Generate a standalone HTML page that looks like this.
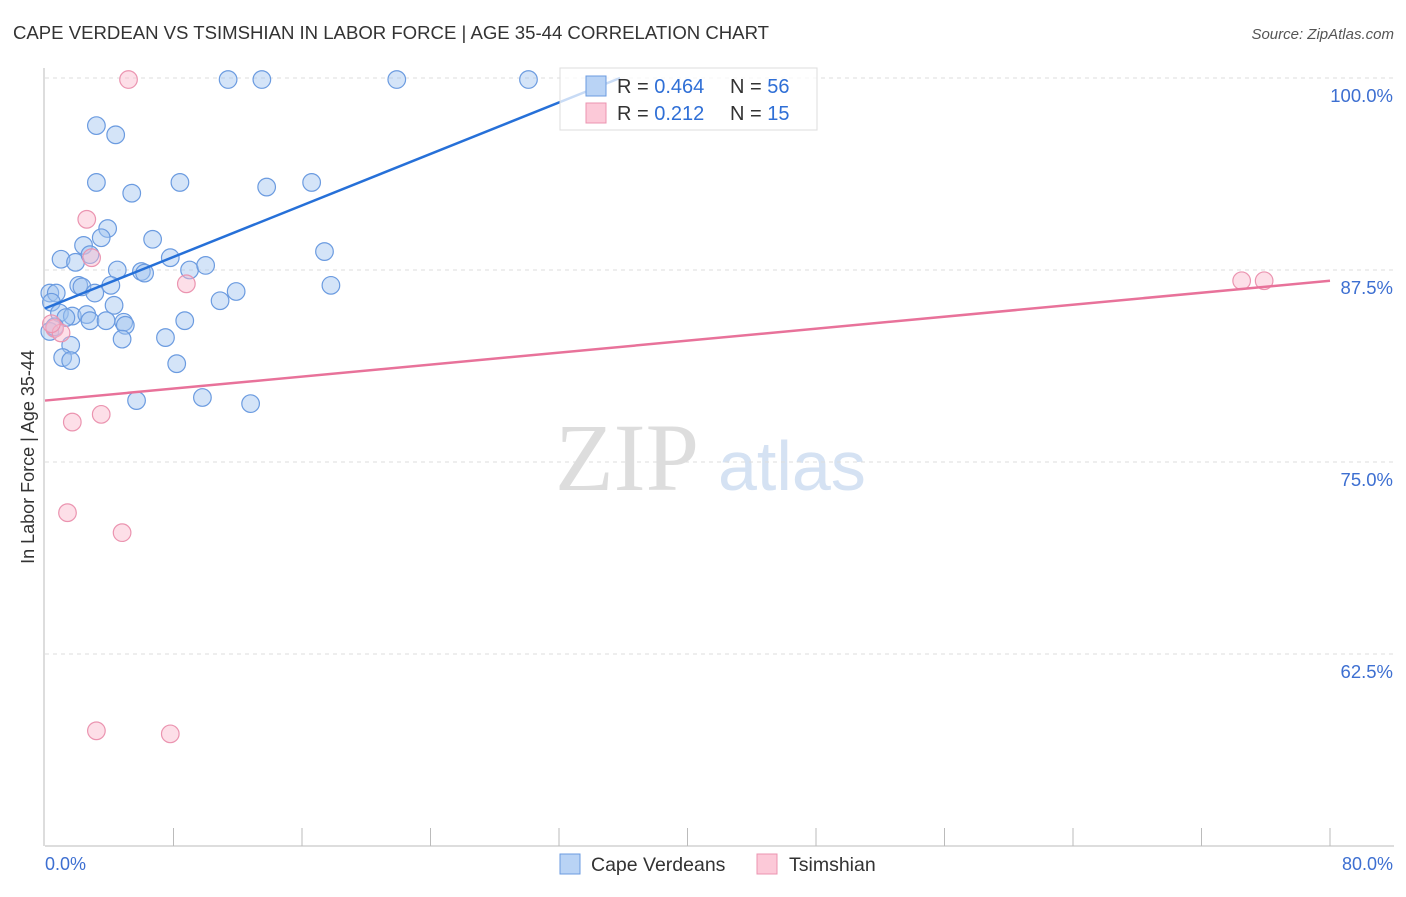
<!DOCTYPE html>
<html><head><meta charset="utf-8"><style>
body{margin:0;background:#fff;font-family:"Liberation Sans",sans-serif;}
#c{position:relative;width:1406px;height:892px;}
</style></head><body>
<div id="c">
<svg id="s" width="1406" height="892" xmlns="http://www.w3.org/2000/svg">
<text x="13" y="39" font-size="18.6" fill="#333" textLength="756">CAPE VERDEAN VS TSIMSHIAN IN LABOR FORCE | AGE 35-44 CORRELATION CHART</text>
<text x="1394" y="39" font-size="15" fill="#555" font-style="italic" text-anchor="end">Source: ZipAtlas.com</text>
<text x="555" y="490" font-size="96" fill="#ddd" font-family="Liberation Serif,serif">ZIP</text>
<text x="718" y="490" font-size="70" fill="#d5e2f3">atlas</text>
<text transform="translate(34,457) rotate(-90)" font-size="18" fill="#333" text-anchor="middle">In Labor Force | Age 35-44</text>
<g id="grid"></g><g id="marks"></g>
<text x="45" y="870" font-size="18" fill="#3d6fd1">0.0%</text>
<text x="1393" y="870" font-size="18" fill="#3d6fd1" text-anchor="end">80.0%</text>
<g>
<rect x="560" y="68" width="257" height="62" fill="#fff" fill-opacity="0.75" stroke="#ddd"/>
<rect x="586" y="76" width="20" height="20" fill="#b9d3f5" stroke="#6b9be0"/>
<rect x="586" y="103" width="20" height="20" fill="#fcc9d8" stroke="#eb94b0"/>
<text x="617" y="93" font-size="20" fill="#333">R = <tspan fill="#2f6fd6">0.464</tspan></text>
<text x="730" y="93" font-size="20" fill="#333">N = <tspan fill="#2f6fd6">56</tspan></text>
<text x="617" y="120" font-size="20" fill="#333">R = <tspan fill="#2f6fd6"> 0.212</tspan></text>
<text x="730" y="120" font-size="20" fill="#333">N = <tspan fill="#2f6fd6">15</tspan></text>
</g>
<g>
<rect x="560" y="854" width="20" height="20" fill="#b9d3f5" stroke="#6b9be0"/>
<text x="591" y="871" font-size="19.5" fill="#333">Cape Verdeans</text>
<rect x="757" y="854" width="20" height="20" fill="#fcc9d8" stroke="#eb94b0"/>
<text x="789" y="871" font-size="19.5" fill="#333">Tsimshian</text>
</g>
</svg></div>
<script>
const yTicks=[100,87.5,75,62.5];
const yTickLabels=["100.0%","87.5%","75.0%","62.5%"];
const blueX=[11.4,13.5,21.9,30.1,3.2,4.4,3.2,8.4,5.4,13.8,16.6,3.9,3.5,6.7,2.4,1.0,1.9,2.8,7.8,17.4,4.5,6.0,6.2,9.0,10.0,2.1,2.3,4.1,17.8,0.3,0.7,3.1,11.9,10.9,0.4,4.3,0.9,1.7,2.6,1.3,2.8,3.8,4.9,5.0,8.7,0.3,0.6,4.8,7.5,1.6,1.1,1.6,8.2,5.7,9.8,12.8];
const blueY=[99.9,99.9,99.9,99.9,96.9,96.3,93.2,93.2,92.5,92.9,93.2,90.2,89.6,89.5,89.1,88.2,88.0,88.5,88.3,88.7,87.5,87.4,87.3,87.5,87.8,86.5,86.4,86.5,86.5,86.0,86.0,86.0,86.1,85.5,85.4,85.2,84.7,84.5,84.6,84.4,84.2,84.2,84.1,83.9,84.2,83.5,83.8,83.0,83.1,82.6,81.8,81.6,81.4,79.0,79.2,78.8];
const pinkX=[5.2,2.6,2.9,8.8,0.6,1.0,3.5,1.7,1.4,4.8,3.2,7.8,74.5,75.9,0.4];
const pinkY=[99.9,90.8,88.3,86.6,83.7,83.4,78.1,77.6,71.7,70.4,57.5,57.3,86.8,86.8,84.0];
const blueLineX=[0,35.8];const blueLineY=[85.0,100];
const pinkLineX=[0,80];const pinkLineY=[79.0,86.8];
const NS="http://www.w3.org/2000/svg";
const xs=v=>45+v*1285/80, ys=v=>78+(100-v)*768/50;
function mk(t,a,p,before){const e=document.createElementNS(NS,t);for(const k in a)e.setAttribute(k,a[k]);if(before)p.insertBefore(e,before);else p.appendChild(e);return e;}
const g=document.getElementById('grid'),m=document.getElementById('marks');
yTicks.forEach((t,i)=>{const l=mk('line',{x1:45,x2:1394,y1:ys(t),y2:ys(t),stroke:'#ddd','stroke-dasharray':'4,4'},g);


const tx=mk('text',{x:1393,y:ys(t)+24,'font-size':18.5,fill:'#3d6fd1','text-anchor':'end'},g);tx.textContent=yTickLabels[i];

});
const ax=mk('line',{x1:45,x2:1394,y1:846,y2:846,stroke:'#bbb'},g);


const ay=mk('line',{x1:44,x2:44,y1:68,y2:846,stroke:'#bbb'},g);


for(let i=1;i<=10;i++){const t=mk('line',{x1:xs(i*8),x2:xs(i*8),y1:828,y2:846,stroke:'#bbb'},g);

}
blueX.forEach((x,i)=>{const c=mk('circle',{cx:xs(x),cy:ys(blueY[i]),r:8.8,fill:'rgba(160,195,240,0.45)',stroke:'#6b9be0','stroke-width':1.2},m);

});
pinkX.forEach((x,i)=>{const c=mk('circle',{cx:xs(x),cy:ys(pinkY[i]),r:8.8,fill:'rgba(250,185,205,0.45)',stroke:'#eb94b0','stroke-width':1.2},m);

});
const bl=mk('line',{x1:xs(blueLineX[0]),y1:ys(blueLineY[0]),x2:xs(blueLineX[1]),y2:ys(blueLineY[1]),stroke:'#2670d8','stroke-width':2.5},m);


const pl=mk('line',{x1:xs(pinkLineX[0]),y1:ys(pinkLineY[0]),x2:xs(pinkLineX[1]),y2:ys(pinkLineY[1]),stroke:'#e8729a','stroke-width':2.5},m);


</script>
</body></html>
